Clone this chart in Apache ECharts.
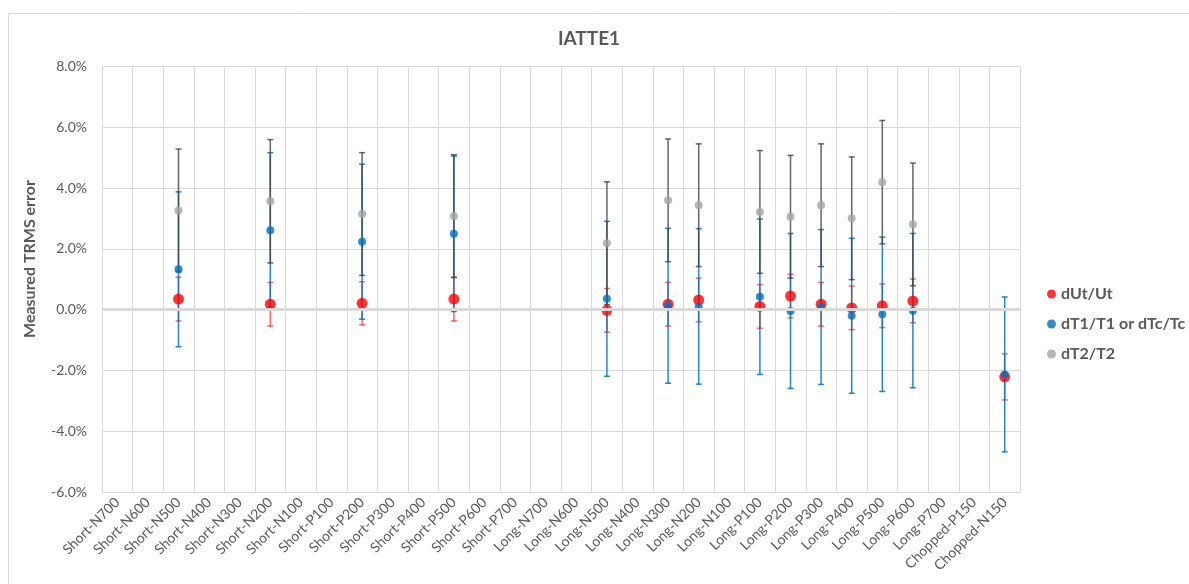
<!DOCTYPE html>
<html>
<head>
<meta charset="utf-8">
<script src="https://cdn.jsdelivr.net/npm/echarts@6/dist/echarts.min.js"></script>
<style>
html,body{margin:0;padding:0;background:#fff;}
#chart{width:1189px;height:584px;}
</style>
</head>
<body>
<div id="chart"></div>
<script>
var categories = ['Short-N700','Short-N600','Short-N500','Short-N400','Short-N300','Short-N200','Short-N100','Short-P100','Short-P200','Short-P300','Short-P400','Short-P500','Short-P600','Short-P700','Long-N700','Long-N600','Long-N500','Long-N400','Long-N300','Long-N200','Long-N100','Long-P100','Long-P200','Long-P300','Long-P400','Long-P500','Long-P600','Long-P700','Chopped-P150','Chopped-N150'];

// values in percent
var dUt    = [null,null,0.35,null,null,0.18,null,null,0.21,null,null,0.35,null,null,null,null,-0.02,null,0.18,0.32,null,0.11,0.45,0.18,0.06,0.13,0.29,null,null,-2.21];
var dUtErr = [null,null,0.72,null,null,0.72,null,null,0.71,null,null,0.72,null,null,null,null,0.72,null,0.72,0.72,null,0.72,0.72,0.72,0.72,0.72,0.72,null,null,0.76];

var dT1    = [null,null,1.33,null,null,2.62,null,null,2.24,null,null,2.50,null,null,null,null,0.36,null,0.13,0.11,null,0.43,-0.04,0.09,-0.20,-0.15,-0.03,null,null,-2.13];
var dT1Err = [null,null,2.55,null,null,2.55,null,null,2.55,null,null,2.56,null,null,null,null,2.55,null,2.55,2.56,null,2.56,2.55,2.55,2.55,2.54,2.54,null,null,2.55];

var dT2    = [null,null,3.27,null,null,3.57,null,null,3.15,null,null,3.08,null,null,null,null,2.19,null,3.60,3.44,null,3.22,3.06,3.44,3.01,4.20,2.81,null,null,null];
var dT2Err = [null,null,2.02,null,null,2.03,null,null,2.02,null,null,2.02,null,null,null,null,2.02,null,2.02,2.02,null,2.02,2.02,2.02,2.02,2.03,2.02,null,null,null];

var yTicks = {min: -6, max: 8, interval: 2};

function pts(vals){
  return vals.map(function(v,i){ return v === null ? [i, null] : [i, v]; });
}
function errs(vals, e){
  var out = [];
  vals.forEach(function(v,i){ if (v !== null) out.push([i, v, e[i]]); });
  return out;
}
function errSeries(name, vals, e, color, opacity){
  return {
    type: 'custom',
    name: name,
    silent: true,
    z: 2,
    data: errs(vals, e),
    renderItem: function(params, api){
      var x = api.value(0), y = api.value(1), er = api.value(2);
      var hi = api.coord([x, y + er]);
      var lo = api.coord([x, y - er]);
      var w = 3;
      var st = {stroke: color, lineWidth: 1.5, opacity: opacity};
      return {
        type: 'group',
        children: [
          {type:'line', shape:{x1:hi[0],y1:hi[1],x2:lo[0],y2:lo[1]}, style: st},
          {type:'line', shape:{x1:hi[0]-w,y1:hi[1],x2:hi[0]+w,y2:hi[1]}, style: st},
          {type:'line', shape:{x1:lo[0]-w,y1:lo[1],x2:lo[0]+w,y2:lo[1]}, style: st}
        ]
      };
    }
  };
}

var FONT = 'Lato, "Liberation Sans", sans-serif';
var TXT = '#595959';

var chart = echarts.init(document.getElementById('chart'));
chart.setOption({
  animation: false,
  backgroundColor: '#ffffff',
  textStyle: {fontFamily: FONT},
  title: {
    text: 'IATTE1',
    left: 584, top: 24, textAlign: 'center',
    textStyle: {fontFamily: FONT, fontWeight: 'bold', fontSize: 19, color: TXT}
  },
  graphic: [
    {type:'rect', shape:{x:8.5, y:13.5, width:1300, height:700}, style:{fill:'none', stroke:'#D9D9D9', lineWidth:1}, silent:true, z:-10},
    {type:'text', x:30, y:259, rotation: Math.PI/2,
     style:{text:'Measured TRMS error', fontFamily: FONT, fontWeight:'bold', fontSize:16, fill: TXT, align:'center', verticalAlign:'middle'}}
  ],
  legend: {
    orient: 'vertical',
    left: 1042, top: 280,
    itemWidth: 9, itemHeight: 9, itemGap: 12,
    icon: 'circle',
    data: ['dUt/Ut', 'dT1/T1 or dTc/Tc', 'dT2/T2'],
    textStyle: {fontFamily: FONT, fontWeight: 'bold', fontSize: 16, color: TXT, lineHeight: 18}
  },
  grid: {left: 102, right: 169, top: 66.7, bottom: 92, containLabel: false},
  xAxis: {
    type: 'category',
    data: categories,
    boundaryGap: true,
    axisLine: {show: false, onZero: false},
    axisTick: {show: false},
    axisLabel: {interval: 0, rotate: 45, margin: 8, fontFamily: FONT, fontSize: 14, color: TXT},
    splitLine: {show: true, interval: 0, lineStyle: {color: '#D9D9D9', width: 1}}
  },
  yAxis: {
    type: 'value',
    min: yTicks.min, max: yTicks.max, interval: yTicks.interval,
    axisLine: {show: false},
    axisTick: {show: false},
    axisLabel: {margin: 15, fontFamily: FONT, fontSize: 14, color: TXT,
      formatter: function(v){ return v.toFixed(1) + '%'; }},
    splitLine: {lineStyle: {color: '#D9D9D9', width: 1}}
  },
  series: [
    errSeries('errU', dUt, dUtErr, '#FF0000', 0.6),
    errSeries('errT1', dT1, dT1Err, '#0070C0', 0.85),
    errSeries('errT2', dT2, dT2Err, '#404040', 0.8),
    {
      type: 'scatter', name: 'dUt/Ut', data: pts(dUt), symbolSize: 11, z: 3,
      itemStyle: {color: '#FF0000'},
      markLine: {silent: true, symbol: 'none', label: {show: false},
        lineStyle: {color: '#D9D9D9', width: 3, type: 'solid'},
        data: [{yAxis: 0}]}
    },
    {type: 'scatter', name: 'dT1/T1 or dTc/Tc', data: pts(dT1), symbolSize: 8, z: 4, itemStyle: {color: '#0070C0'}},
    {type: 'scatter', name: 'dT2/T2', data: pts(dT2), symbolSize: 8, z: 5, itemStyle: {color: '#A5A5A5'}}
  ]
});
</script>
</body>
</html>
